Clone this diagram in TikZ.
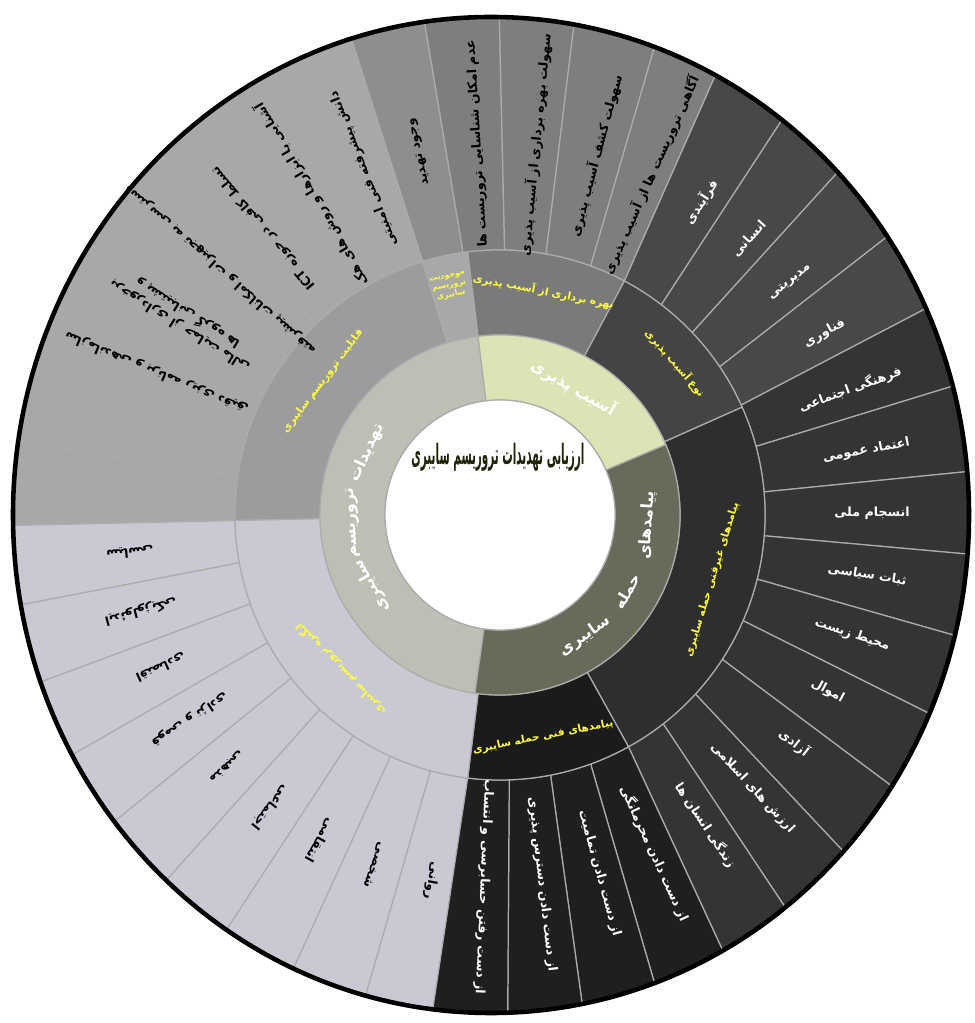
\documentclass[tikz,border=0pt]{standalone}
\usepackage{fontspec}
\usepackage{graphicx}
\usetikzlibrary{calc}
\TeXXeTstate=1
\newfontfamily\fa[Script=Arabic]{DejaVu Sans}

\definecolor{threatring}{RGB}{190,191,180}
\definecolor{vulnring}{RGB}{222,227,182}
\definecolor{impactring}{RGB}{104,106,90}
\definecolor{capab}{RGB}{156,156,156}
\definecolor{exist}{RGB}{168,168,168}
\definecolor{exploit}{RGB}{122,122,122}
\definecolor{vtype}{RGB}{68,68,68}
\definecolor{nontech}{RGB}{46,46,46}
\definecolor{tech}{RGB}{27,27,27}
\definecolor{motive}{RGB}{201,201,212}
\definecolor{capleaf}{RGB}{168,168,168}
\definecolor{existleaf}{RGB}{142,142,142}
\definecolor{exploitleaf}{RGB}{126,126,126}
\definecolor{typeleaf}{RGB}{72,72,72}
\definecolor{nontechleaf}{RGB}{52,52,52}
\definecolor{techleaf}{RGB}{31,31,31}
\definecolor{labelyellow}{RGB}{255,255,60}
\definecolor{titlegreen}{RGB}{30,36,8}

\newcommand{\ringpart}[5]{% from, to, inner r, outer r, fill
  \filldraw[fill=#5,partline] ($(C)+(#1:#3)$) arc[start angle=#1,end angle=#2,radius=#3]
    -- ($(C)+(#2:#4)$) arc[start angle=#2,end angle=#1,radius=#4] -- cycle;}
\newcommand{\leaf}[3]{% from, to, fill  (outer edge lies on the ellipse)
  \filldraw[fill=#3,partline] ($(C)+(#1:\rTwo)$) arc[start angle=#1,end angle=#2,radius=\rTwo]
    -- ($(E)+({\rX*cos(#2)},{\rY*sin(#2)})$)
    arc[start angle=#2,end angle=#1,x radius=\rX,y radius=\rY] -- cycle;}
\newcommand{\leaflabel}[5]{% from, to, name, text colour, text
  \pgfmathsetmacro\md{(#1+#2)/2}
  \node[leaftext,text=#4,rotate=\md] (#3) at ($(C)+(\md:\rText)$) {#5};}

\begin{document}
\begin{tikzpicture}[x=0.02cm,y=0.02cm,
  partline/.style={draw=gray!65,line width=0.7pt},
  leaftext/.style={font=\fa\bfseries\fontsize{7.2}{8.8}\selectfont,inner sep=1pt,align=center},
  ringtext/.style={font=\fa\bfseries\fontsize{9}{11}\selectfont,text=white,inner sep=0pt},
  subtext/.style={font=\fa\bfseries\fontsize{6}{7}\selectfont,text=labelyellow,inner sep=0pt,align=center}
  ]
\useasboundingbox (0,0) rectangle (974,1023);
\def\rZero{115}
\def\rOne{180}
\def\rTwo{265}
\def\rX{478}
\def\rY{498}
\def\rText{372}
\coordinate (C) at (500,508);   % centre of the rings
\coordinate (E) at (491,508);   % centre of the outer rim

% outer ring
\leaf{98}{107}{existleaf}
\foreach \a/\b in {107/116,116/125,125/134,134/143.5,143.5/153,153/162,162/171.5,171.5/181.2}
  {\leaf{\a}{\b}{capleaf}}
\foreach \a/\b in {181.2/190.4,190.4/199.6,199.6/208.8,208.8/218,218/227.2,227.2/236.4,236.4/245.6,245.6/254.8,254.8/264}
  {\leaf{\a}{\b}{motive}}
\foreach \a/\b in {89/98,80/89,70/80,62/70}
  {\leaf{\a}{\b}{exploitleaf}}
\foreach \a/\b in {52.5/62,43.5/52.5,34/43.5,24.5/34}
  {\leaf{\a}{\b}{typeleaf}}
\foreach \a/\b in {15/24.5,5/15,-4.5/5,-14/-4.5,-23.5/-14,-33/-23.5,-42.5/-33,-52/-42.5,-61/-52}
  {\leaf{\a}{\b}{nontechleaf}}
\foreach \a/\b in {-70/-61,-79/-70,-88/-79,-97/-88}
  {\leaf{\a}{\b}{techleaf}}
\draw[line width=2.6pt] (E) ellipse[x radius=\rX,y radius=\rY];

% middle ring
\ringpart{107}{181.2}{\rOne}{\rTwo}{capab}
\ringpart{97}{107}{\rOne}{\rTwo}{exist}
\ringpart{62}{97}{\rOne}{\rTwo}{exploit}
\ringpart{24}{62}{\rOne}{\rTwo}{vtype}
\ringpart{-61}{24}{\rOne}{\rTwo}{nontech}
\ringpart{-97}{-61}{\rOne}{\rTwo}{tech}
\ringpart{181.2}{263}{\rOne}{\rTwo}{motive}

% inner ring
\ringpart{97}{262}{\rZero}{\rOne}{threatring}
\ringpart{23}{97}{\rZero}{\rOne}{vulnring}
\ringpart{-98}{23}{\rZero}{\rOne}{impactring}
\filldraw[fill=white,partline] (C) circle[radius=\rZero];

% centre
\node[font=\fa\bfseries\fontsize{16}{18}\selectfont,text=titlegreen] (title) at ($(C)+(-2,58)$)
  {\scalebox{0.37}[1]{\beginR ارزیابی تهدیدات تروریسم سایبری\endR}};

% inner ring texts
\node[ringtext,rotate=-30] (vuln) at ($(C)+(60:147)$) {\beginR آسیب پذیری\endR};
\foreach \w/\t/\n in {تهدیدات/155/thrA, تروریسم/183/thrB, سایبری/209/thrC}
  \node[ringtext,rotate=\t-90] (\n) at ($(C)+(\t:147)$) {\beginR \w\endR};
\foreach \w/\t/\n in {پیامدهای/-4/impA, حمله/-31/impB, سایبری/-55/impC}
  \node[ringtext,rotate=\t+90] (\n) at ($(C)+(\t:148)$) {\beginR \w\endR};

% middle ring texts
\node[subtext,rotate=53] (capability) at ($(C)+(143:222)$) {\beginR قابلیت تروریسم سایبری\endR};
\node[subtext,font=\fa\bfseries\fontsize{4.5}{5.5}\selectfont,rotate=12.5] (existence) at ($(C)+(102.5:234)$)
  {\beginR موجودیت\endR\\\beginR تروریسم\endR\\\beginR سایبری\endR};
\node[subtext,rotate=-11] (exploitation) at ($(C)+(79:228)$) {\beginR بهره برداری از آسیب پذیری\endR};
\node[subtext,rotate=-49] (vulntype) at ($(C)+(41:232)$) {\beginR نوع آسیب پذیری\endR};
\node[subtext,rotate=73] (nontechnical) at ($(C)+(-17:222)$) {\beginR پیامدهای غیرفنی حمله سایبری\endR};
\node[subtext,rotate=11] (technical) at ($(C)+(-79:226)$) {\beginR پیامدهای فنی حمله سایبری\endR};
\node[subtext,rotate=134] (motivation) at ($(C)+(224:222)$) {\beginR انگیزه تروریسم سایبری\endR};

% outer ring texts
\leaflabel{98}{107}{threatExists}{black}{\beginR وجود تهدید\endR}
\leaflabel{107}{116}{knowledge}{black}{\beginR دانش پیشرفته فنی امنیتی\endR}
\leaflabel{116}{125}{hackTools}{black}{\beginR آشنایی با ابزارها و روش های هک\endR}
\leaflabel{125}{134}{ictSkill}{black}{\beginR تسلط کافی در حوزه \beginL ICT\endL\endR}
\leaflabel{134}{143.5}{equipment}{black}{\beginR دسترسی به تجهیزات و امکانات پیشرفته\endR}
\leaflabel{143.5}{153}{support}{black}{\beginR برخورداری از حمایت مالی\endR\\\beginR و پشتیبانی گروه ها\endR}
\leaflabel{153}{162}{planning}{black}{\beginR سازماندهی و برنامه ریزی دقیق\endR}
\leaflabel{181.2}{190.4}{political}{black}{\beginR سیاسی\endR}
\leaflabel{190.4}{199.6}{ideology}{black}{\beginR ایدئولوژیکی\endR}
\leaflabel{199.6}{208.8}{economic}{black}{\beginR اقتصادی\endR}
\leaflabel{208.8}{218}{ethnic}{black}{\beginR قومی و نژادی\endR}
\leaflabel{218}{227.2}{religious}{black}{\beginR مذهبی\endR}
\leaflabel{227.2}{236.4}{social}{black}{\beginR اجتماعی\endR}
\leaflabel{236.4}{245.6}{revenge}{black}{\beginR انتقامی\endR}
\leaflabel{245.6}{254.8}{personal}{black}{\beginR شخصی\endR}
\leaflabel{254.8}{264}{mental}{black}{\beginR روانی\endR}
\leaflabel{89}{98}{noTrace}{black}{\beginR عدم امکان شناسایی تروریست ها\endR}
\leaflabel{80}{89}{easyExploit}{black}{\beginR سهولت بهره برداری از آسیب پذیری\endR}
\leaflabel{70}{80}{easyFind}{black}{\beginR سهولت کشف آسیب پذیری\endR}
\leaflabel{62}{70}{awareness}{black}{\beginR آگاهی تروریست ها از آسیب پذیری\endR}
\leaflabel{52.5}{62}{process}{white}{\beginR فرآیندی\endR}
\leaflabel{43.5}{52.5}{human}{white}{\beginR انسانی\endR}
\leaflabel{34}{43.5}{management}{white}{\beginR مدیریتی\endR}
\leaflabel{24.5}{34}{technology}{white}{\beginR فناوری\endR}
\leaflabel{15}{24.5}{culture}{white}{\beginR فرهنگی اجتماعی\endR}
\leaflabel{5}{15}{trust}{white}{\beginR اعتماد عمومی\endR}
\leaflabel{-4.5}{5}{cohesion}{white}{\beginR انسجام ملی\endR}
\leaflabel{-14}{-4.5}{stability}{white}{\beginR ثبات سیاسی\endR}
\leaflabel{-23.5}{-14}{environment}{white}{\beginR محیط زیست\endR}
\leaflabel{-33}{-23.5}{property}{white}{\beginR اموال\endR}
\leaflabel{-42.5}{-33}{freedom}{white}{\beginR آزادی\endR}
\leaflabel{-52}{-42.5}{values}{white}{\beginR ارزش های اسلامی\endR}
\leaflabel{-61}{-52}{lives}{white}{\beginR زندگی انسان ها\endR}
\leaflabel{-70}{-61}{confidentiality}{white}{\beginR از دست دادن محرمانگی\endR}
\leaflabel{-79}{-70}{integrity}{white}{\beginR از دست دادن تمامیت\endR}
\leaflabel{-88}{-79}{availability}{white}{\beginR از دست دادن دسترس پذیری\endR}
\leaflabel{-97}{-88}{accountability}{white}{\beginR از دست رفتن حسابرسی و انتساب\endR}
\end{tikzpicture}
\end{document}
